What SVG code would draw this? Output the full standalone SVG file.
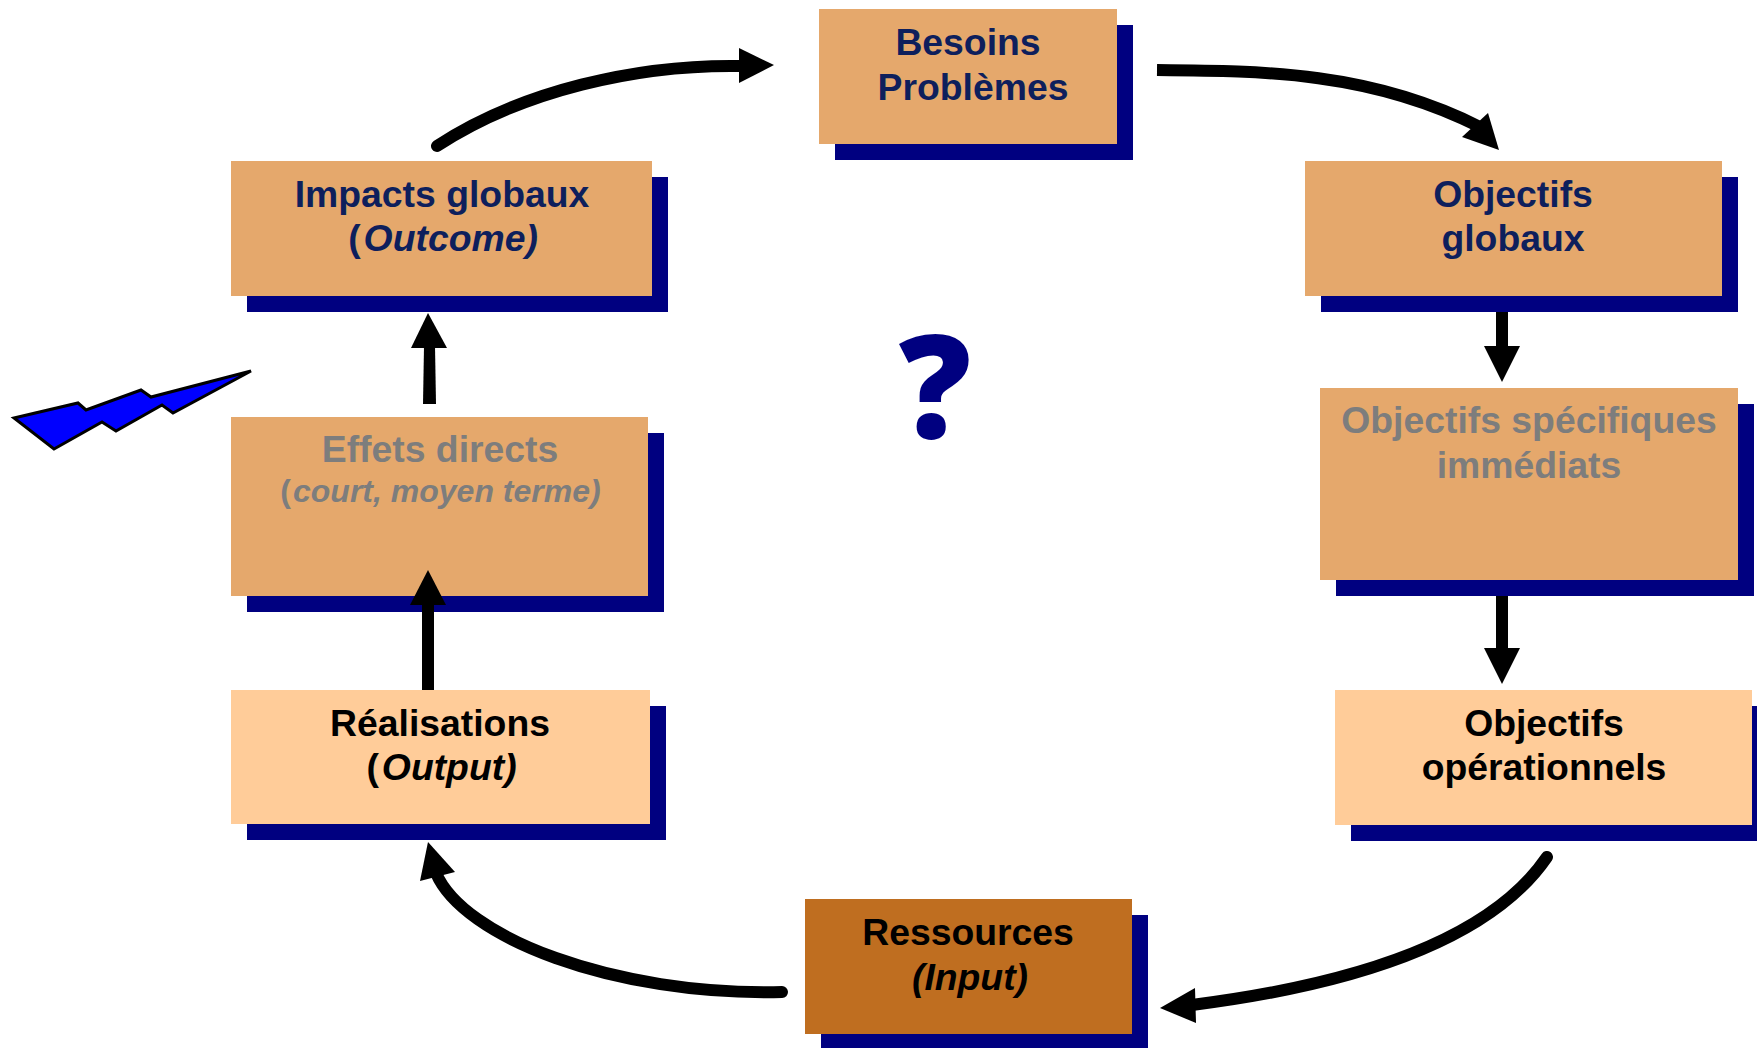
<svg xmlns="http://www.w3.org/2000/svg" width="1757" height="1048" viewBox="0 0 1757 1048">
<style>
.s{fill:#000080}
.a{fill:#e5a86c}
.l{fill:#ffcc99}
.d{fill:#bf6e20}
text{font-family:"Liberation Sans",Arial,sans-serif;font-weight:bold;text-anchor:middle;font-size:37.33px}
.n{fill:#0e1f5c}
.g{fill:#7d7d7d}
.k{fill:#000}
.i{font-style:italic}
.c{fill:none;stroke:#000;stroke-width:12;stroke-linecap:round}
.b{fill:none;stroke:#000;stroke-width:12}
.h{fill:#000}
</style>
<rect width="1757" height="1048" fill="#fff"/>
<g id="besoins"><rect class="s" x="835" y="25" width="298" height="135"/><rect class="a" x="819" y="9" width="298" height="135"/><text class="n" x="968" y="55">Besoins</text><text class="n" x="973" y="100">Problèmes</text></g>
<g id="objectifs-globaux"><rect class="s" x="1321" y="177" width="417" height="135"/><rect class="a" x="1305" y="161" width="417" height="135"/><text class="n" x="1513" y="207">Objectifs</text><text class="n" x="1513" y="251">globaux</text></g>
<g id="objectifs-specifiques"><rect class="s" x="1336" y="404" width="418" height="192"/><rect class="a" x="1320" y="388" width="418" height="192"/><text class="g" x="1529" y="433">Objectifs spécifiques</text><text class="g" x="1529" y="478">immédiats</text></g>
<g id="objectifs-operationnels"><rect class="s" x="1351" y="706" width="406" height="135"/><rect class="l" x="1335" y="690" width="417" height="135"/><text class="k" x="1544" y="736">Objectifs</text><text class="k" x="1544" y="780">opérationnels</text></g>
<g id="ressources"><rect class="s" x="821" y="915" width="327" height="133"/><rect class="d" x="805" y="899" width="327" height="135"/><text class="k" x="968" y="945">Ressources</text><text class="k i" x="970" y="990">(Input)</text></g>
<g id="realisations"><rect class="s" x="247" y="706" width="419" height="134"/><rect class="l" x="231" y="690" width="419" height="134"/><text class="k" x="440" y="736">Réalisations</text><text class="k" x="441.5" y="780">(<tspan class="i" dx="3">Output)</tspan></text></g>
<g id="effets"><rect class="s" x="247" y="433" width="417" height="179"/><rect class="a" x="231" y="417" width="417" height="179"/><text class="g" x="440" y="462">Effets directs</text><text class="g" x="440.5" y="502" style="font-size:32px">(<tspan class="i" dx="2">court, moyen terme)</tspan></text></g>
<g id="impacts"><rect class="s" x="247" y="177" width="421" height="135"/><rect class="a" x="231" y="161" width="421" height="135"/><text class="n" x="442" y="207">Impacts globaux</text><text class="n" x="443" y="251">(<tspan class="i" dx="3">Outcome)</tspan></text></g>
<g id="question"><text x="935" y="438" style="font-family:'Open Sans','Liberation Sans',sans-serif;font-size:143px;font-weight:800;fill:#000080">?</text></g>
<g id="eclair"><polygon points="14,418 78,403 86,410 141,390 151,397 251,371 173,413 162,405 116,431 102,422 54,449" fill="#0000ff" stroke="#000" stroke-width="3"/></g>
<g id="connectors">
<path class="c" d="M437,146C521,91 637,64 742,66"/><polygon class="h" points="774,65 739,48 739,83"/>
<path class="b" d="M1157,70C1266,71 1371,72 1480,127"/><polygon class="h" points="1499,150 1462,137 1488,113"/>
<path class="c" d="M1547,857C1480,955 1310,990 1192,1005"/><polygon class="h" points="1160,1008 1195,988 1196,1023"/>
<path class="c" d="M782,992C613,996 463,937 436,873"/><polygon class="h" points="428,842 420,881 455,872"/>
<path class="b" d="M1502,312V350"/><polygon class="h" points="1502,382 1484,346 1520,346"/>
<path class="b" d="M1502,596V652"/><polygon class="h" points="1502,684 1484,648 1520,648"/>
<path class="b" d="M428,690V600"/><polygon class="h" points="428,570 410,605 446,605"/>
<polygon class="h" points="423,404 436,404 435,346 424,346"/><polygon class="h" points="428,313 411,348 447,348"/>
</g>
</svg>
